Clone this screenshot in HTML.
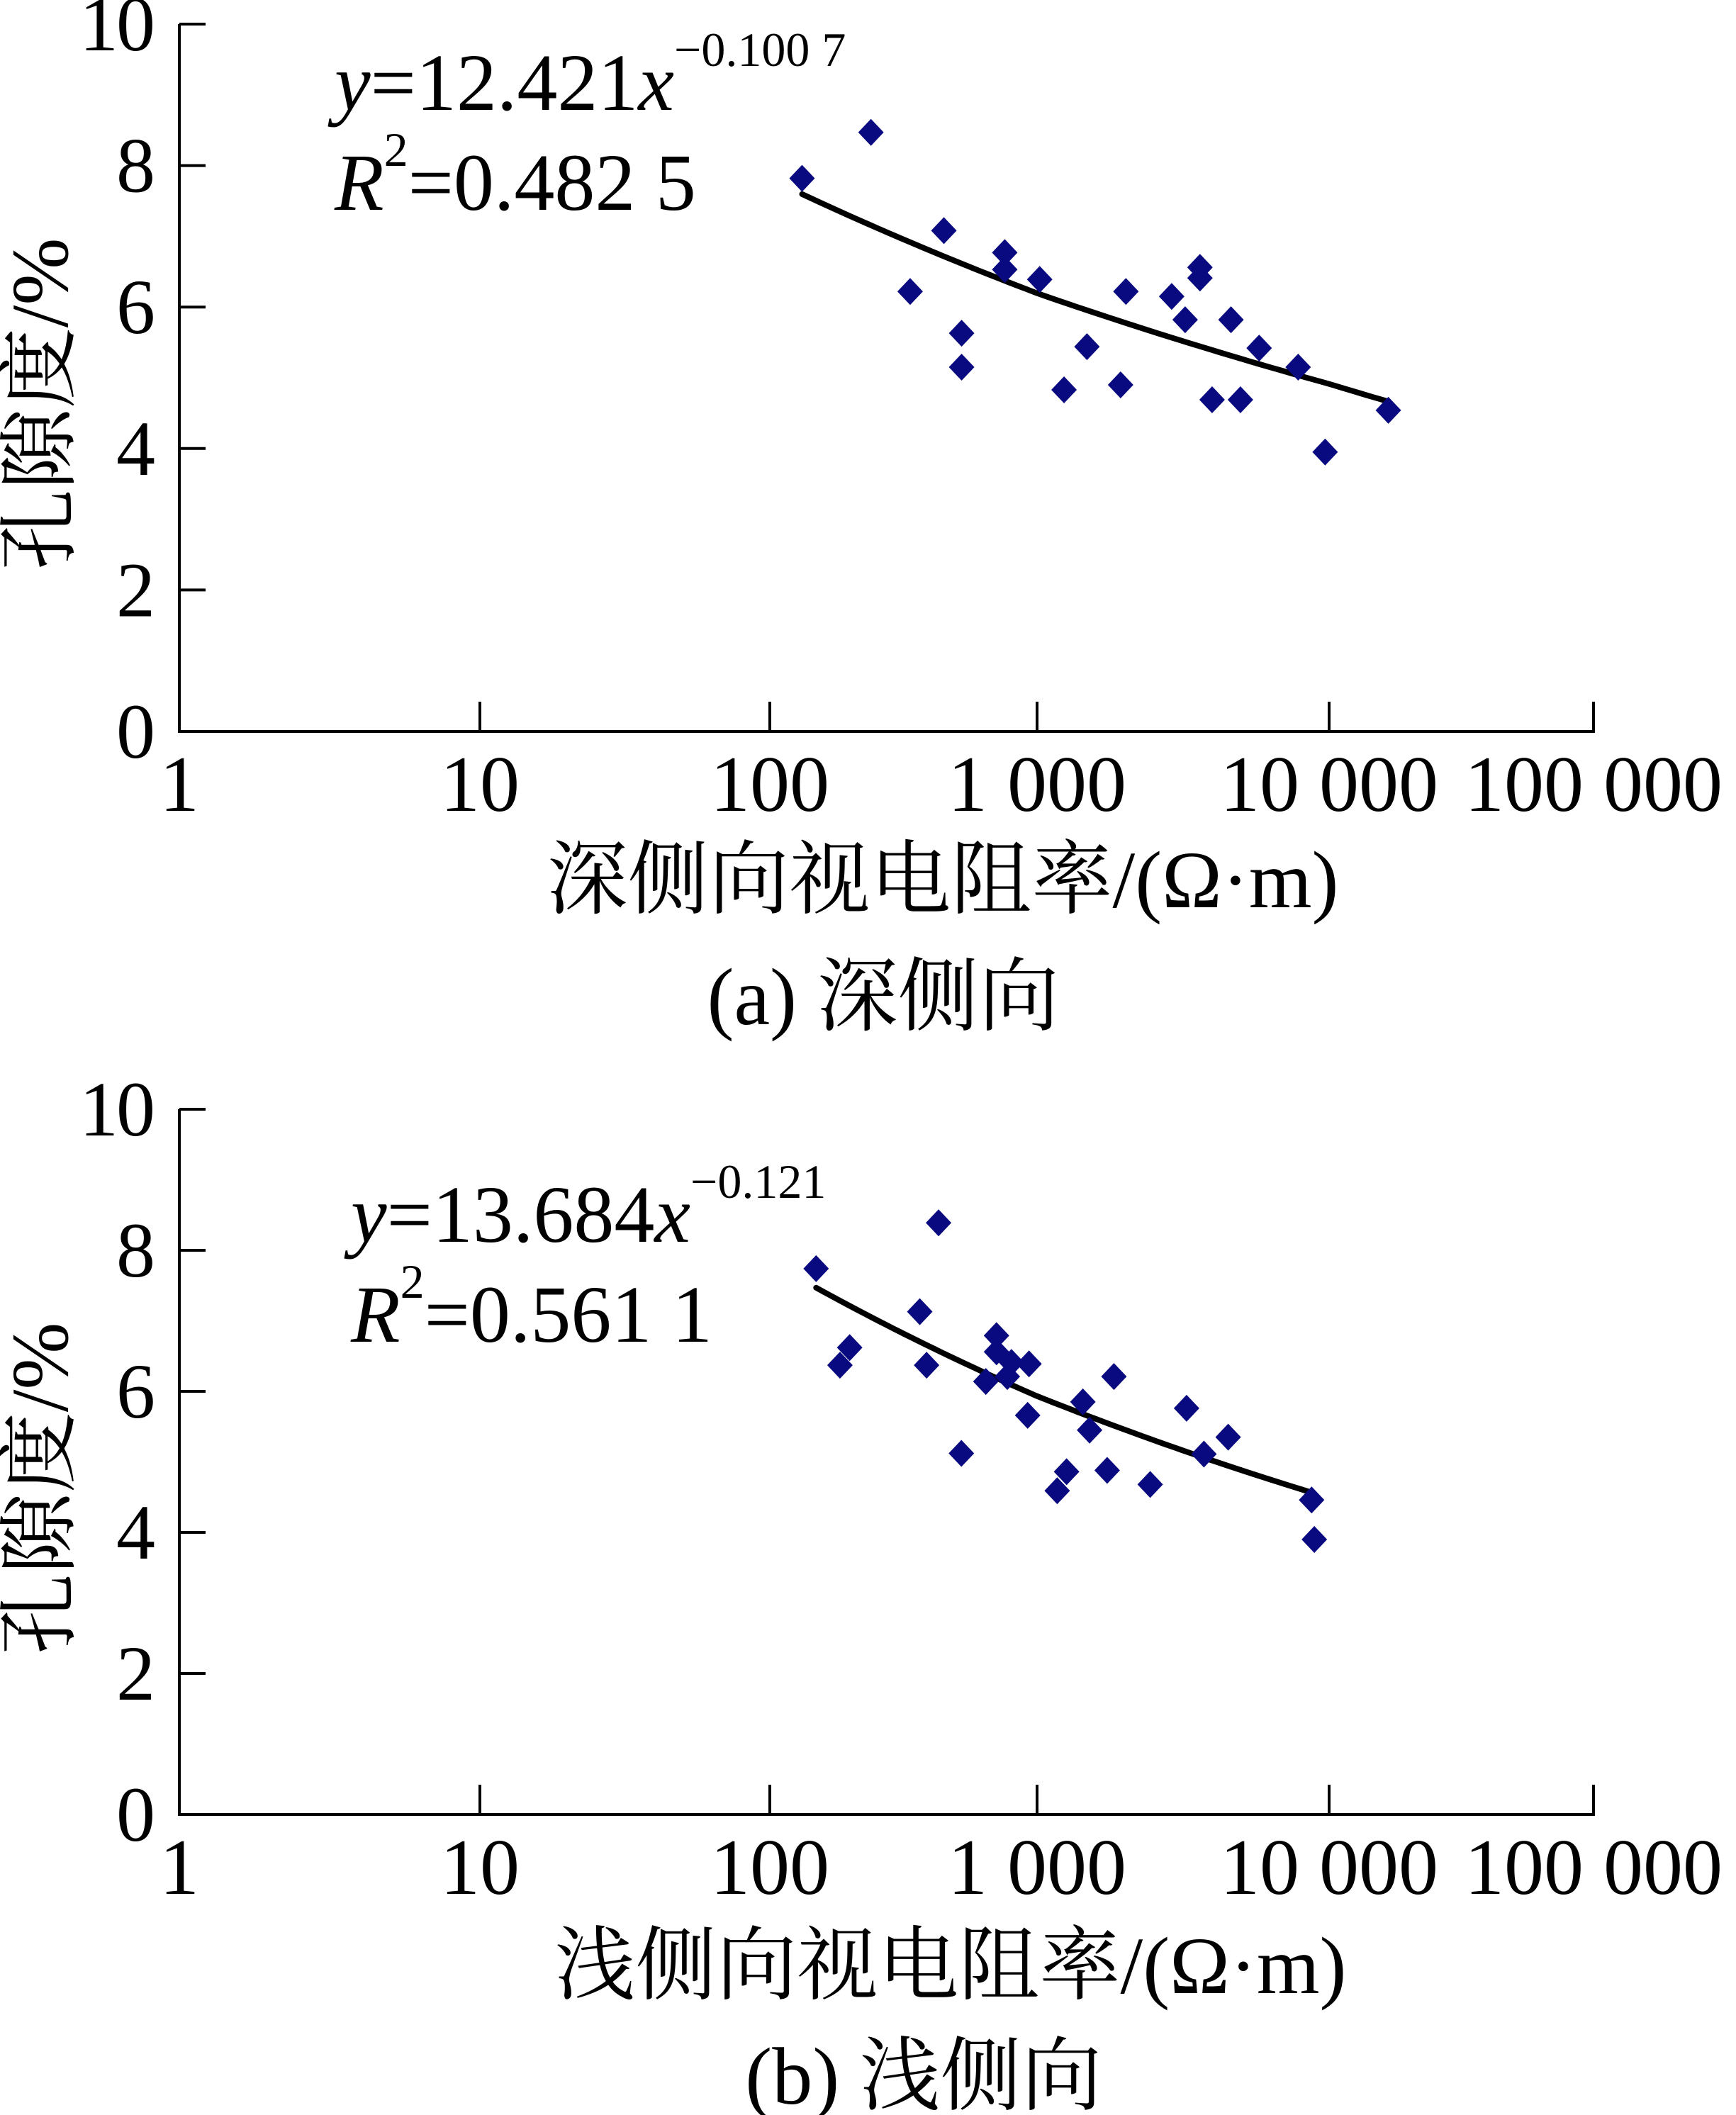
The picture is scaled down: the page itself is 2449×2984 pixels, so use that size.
<!DOCTYPE html>
<html><head><meta charset="utf-8">
<style>
html,body{margin:0;padding:0;background:#fff;}
svg{display:block;}
text{font-family:"Liberation Serif","Noto Serif CJK SC","Noto Sans CJK SC",serif;fill:#000;}
</style></head>
<body>
<svg id="chart" width="2449" height="2984" viewBox="0 0 2449 2984" xmlns="http://www.w3.org/2000/svg"></svg>
<script>
// ---- data ----
const xTickValues = [1, 10, 100, 1000, 10000, 100000];
const xTickLabels = ["1", "10", "100", "1 000", "10 000", "100 000"];
const yTickValues = [0, 2, 4, 6, 8, 10];
const yTickLabels = ["0", "2", "4", "6", "8", "10"];

const deepX = [132, 239, 335, 448, 522, 522, 757, 757, 1021, 1237, 1482, 1932, 2015, 2890, 3214, 3612, 3612, 3975, 4613, 4970, 5760, 7834, 9690, 16750];
const deepY = [7.82, 8.47, 6.22, 7.08, 5.63, 5.15, 6.77, 6.53, 6.39, 4.83, 5.44, 4.90, 6.22, 6.15, 5.82, 6.56, 6.41, 4.69, 5.82, 4.69, 5.42, 5.15, 3.95, 4.54];
const deepFit = {a: 12.421, b: -0.1007, xmin: 132, xmax: 16750};

const shallowX = [149, 183, 199, 364, 386, 428, 521, 643, 705, 705, 774, 802, 922, 933, 1172, 1262, 1435, 1513, 1738, 1833, 2440, 3250, 3727, 4512, 8710, 8900];
const shallowY = [7.74, 6.37, 6.62, 7.13, 6.37, 8.39, 5.12, 6.14, 6.79, 6.56, 6.21, 6.41, 5.66, 6.39, 4.59, 4.86, 5.85, 5.45, 4.88, 6.21, 4.68, 5.76, 5.11, 5.35, 4.46, 3.90];
const shallowFit = {a: 13.684, b: -0.121, xmin: 149, xmax: 8710};

// ---- layout ----
const NS = "http://www.w3.org/2000/svg";
const svg = document.getElementById("chart");
const decadePx = [253, 677, 1086, 1463, 1875, 2248];

function mk(tag, attrs, parent) {
  const e = document.createElementNS(NS, tag);
  for (const k in attrs) e.setAttribute(k, attrs[k]);
  (parent || svg).appendChild(e);
  return e;
}
function xScale(v) {
  const l = Math.log10(v);
  let i = Math.min(Math.max(Math.floor(l), 0), 4);
  return decadePx[i] + (l - i) * (decadePx[i + 1] - decadePx[i]);
}

function drawPanel(cfg) {
  const g = mk("g", {});
  
  
  const y0 = cfg.axisY, yTop = cfg.topY;
  const yScale = v => y0 - v / 10 * (y0 - yTop);

  const yAxis = mk("line", {x1: 253, y1: yTop, x2: 253, y2: y0, stroke: "#000", "stroke-width": 4}, g);
  
  
  const xAxis = mk("line", {x1: 251, y1: y0, x2: 2250, y2: y0, stroke: "#000", "stroke-width": 4}, g);
  
  

  yTickValues.forEach((v, i) => {
    const y = yScale(v);
    if (v > 0) {
      const t = mk("line", {x1: 253, y1: y, x2: 290, y2: y, stroke: "#000", "stroke-width": 4}, g);
      
      
    }
    const lb = mk("text", {x: 216, y: y + 37, "font-size": 110, "text-anchor": "end", "letter-spacing": -3}, g);
    lb.textContent = yTickLabels[i];
    
    
  });
  xTickValues.forEach((v, i) => {
    const x = xScale(v);
    if (i > 0) {
      const t = mk("line", {x1: x, y1: y0, x2: x, y2: y0 - 42, stroke: "#000", "stroke-width": 4}, g);
      
      
    }
    const lb = mk("text", {x: x, y: y0 + 112, "font-size": 112, "text-anchor": "middle"}, g);
    lb.textContent = xTickLabels[i];
    
    
  });

  // trend line
  const f = cfg.fit;
  let d = "";
  const n = 60;
  for (let k = 0; k <= n; k++) {
    const lx = Math.log10(f.xmin) + (Math.log10(f.xmax) - Math.log10(f.xmin)) * k / n;
    const xv = Math.pow(10, lx);
    const yv = f.a * Math.pow(xv, f.b);
    d += (k ? "L" : "M") + xScale(xv).toFixed(1) + "," + yScale(yv).toFixed(1);
  }
  const tl = mk("path", {d: d, fill: "none", stroke: "#000", "stroke-width": 8, "stroke-linecap": "round"}, g);
  
  

  cfg.xs.forEach((xv, i) => {
    const px = xScale(xv), py = yScale(cfg.ys[i]);
    const p = mk("path", {d: `M${px},${py - 19}L${px + 18},${py}L${px},${py + 19}L${px - 18},${py}Z`, fill: "#0a0a80"}, g);
    
    
  });

  const eq = mk("text", {x: cfg.eqX, y: cfg.eqY, "font-size": 114}, g);
  
  
  eq.innerHTML = `<tspan font-style="italic">y</tspan><tspan>=${cfg.eqA}</tspan><tspan font-style="italic">x</tspan><tspan font-size="68" dy="-62">${cfg.eqB}</tspan>`;
  const r2 = mk("text", {x: cfg.eqX, y: cfg.eqY + 141, "font-size": 114}, g);
  
  
  r2.innerHTML = `<tspan font-style="italic">R</tspan><tspan font-size="68" dy="-62">2</tspan><tspan dy="62">=${cfg.r2}</tspan>`;

  const yt = mk("text", {x: 0, y: 0, "font-size": 114, "text-anchor": "middle", transform: `translate(95,${cfg.yTitleY}) rotate(-90)`}, g);
  yt.textContent = "孔隙度/%";
  
  

  const xt = mk("text", {x: cfg.xTitleX, y: cfg.xTitleY, "font-size": 114, "text-anchor": "middle"}, g);
  xt.textContent = cfg.xTitle;
  
  

  const cp = mk("text", {x: cfg.capX, y: cfg.capY, "font-size": 114, "text-anchor": "middle", "xml:space": "preserve"}, g);
  cp.textContent = cfg.caption;
  
  
}

drawPanel({name: "panel-deep", axisY: 1032, topY: 34, xs: deepX, ys: deepY, fit: deepFit,
  eqX: 472, eqY: 155, eqA: "12.421", eqB: "−0.100 7", r2: "0.482 5",
  yTitleY: 570, xTitle: "深侧向视电阻率/(Ω·m)", xTitleX: 1330, xTitleY: 1280,
  caption: "(a)  深侧向", capX: 1246, capY: 1445});
drawPanel({name: "panel-shallow", axisY: 2560, topY: 1565, xs: shallowX, ys: shallowY, fit: shallowFit,
  eqX: 495, eqY: 1752, eqA: "13.684", eqB: "−0.121", r2: "0.561 1",
  yTitleY: 2100, xTitle: "浅侧向视电阻率/(Ω·m)", xTitleX: 1341, xTitleY: 2812,
  caption: "(b) 浅侧向", capX: 1303, capY: 2968});
</script>
</body></html>
